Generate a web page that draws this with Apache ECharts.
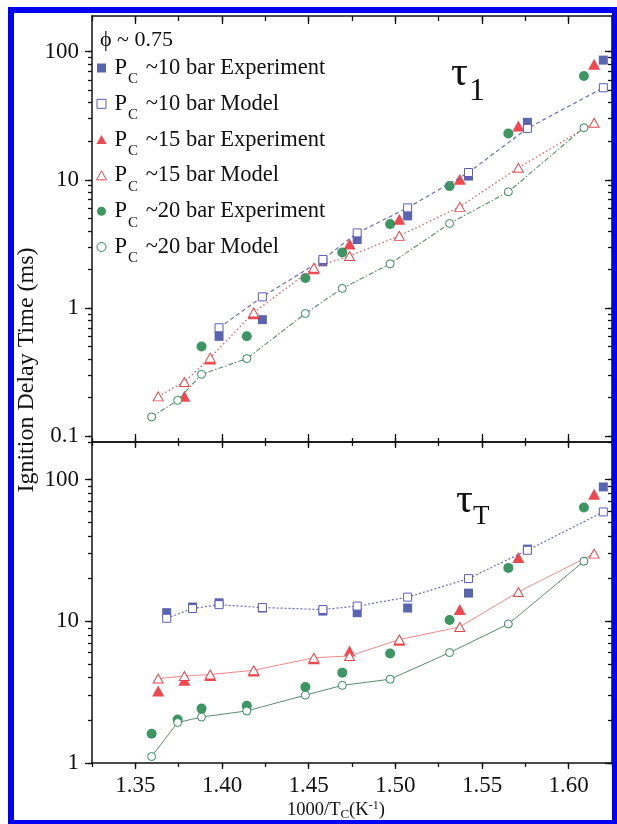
<!DOCTYPE html>
<html>
<head>
<meta charset="utf-8">
<script src="https://cdn.jsdelivr.net/npm/echarts@6/dist/echarts.min.js"></script>
<style>
html, body { margin: 0; padding: 0; background: #fff; }
#chart { width: 617px; height: 824px; }
</style>
</head>
<body>
<div id="chart"></div>
<script>
// ---- x axis: 1000/Tc (K^-1) ----
const xMajorTicks = [1.35, 1.40, 1.45, 1.50, 1.55, 1.60];

// ---- first-stage ignition delay, tau_1 (ms) ----
const tau1_P10_x     = [1.3983, 1.4233, 1.4582, 1.4780, 1.5071, 1.5422, 1.5762, 1.6200];
const tau1_P10_exp   = [0.60, 0.81, 2.29, 3.42, 5.23, 10.7, 28.1, 86];
const tau1_P10_model = [0.70, 1.22, 2.39, 3.85, 6.04, 11.4, 25.2, 52.3];

const tau1_P15_model_x = [1.3632, 1.3783, 1.3932, 1.4183, 1.4530, 1.4736, 1.5023, 1.5372, 1.5710, 1.6147];
const tau1_P15_model   = [0.204, 0.264, 0.409, 0.92, 2.06, 2.54, 3.65, 6.15, 12.4, 27.9];
const tau1_P15_exp_x   = [1.3783, 1.3932, 1.4183, 1.4530, 1.4736, 1.5023, 1.5372, 1.5710, 1.6147];
const tau1_P15_exp     = [0.204, 0.40, 0.90, 2.02, 3.15, 4.93, 10.1, 26.3, 79.7];

const tau1_P20_model_x = [1.3594, 1.3744, 1.3882, 1.4143, 1.4481, 1.4694, 1.4970, 1.5313, 1.5652, 1.6088];
const tau1_P20_model   = [0.141, 0.190, 0.303, 0.402, 0.904, 1.42, 2.21, 4.56, 8.06, 25.5];
const tau1_P20_exp_x   = [1.3882, 1.4143, 1.4481, 1.4694, 1.4970, 1.5313, 1.5652, 1.6088];
const tau1_P20_exp     = [0.50, 0.60, 1.71, 2.71, 4.51, 8.93, 23.0, 64.6];

// ---- total ignition delay, tau_T (ms) ----
const tauT_P10_x     = [1.3681, 1.3830, 1.3983, 1.4233, 1.4582, 1.4780, 1.5071, 1.5422, 1.5762, 1.6200];
const tauT_P10_exp   = [11.5, 12.6, 13.5, 12.4, 11.8, 11.5, 12.4, 15.8, 32.3, 88.7];
const tauT_P10_model = [10.5, 12.3, 13.1, 12.5, 12.1, 12.8, 14.8, 20.0, 31.7, 59.1];

const tauT_P15_x     = [1.3632, 1.3783, 1.3932, 1.4183, 1.4530, 1.4736, 1.5023, 1.5372, 1.5710, 1.6147];
const tauT_P15_exp   = [3.22, 3.83, 4.15, 4.45, 5.45, 6.17, 7.35, 12.1, 28.2, 78.8];
const tauT_P15_model = [3.94, 4.11, 4.21, 4.51, 5.53, 5.69, 7.43, 9.12, 16.1, 30.0];

const tauT_P20_x     = [1.3594, 1.3744, 1.3882, 1.4143, 1.4481, 1.4694, 1.4970, 1.5313, 1.5652, 1.6088];
const tauT_P20_exp   = [1.61, 2.03, 2.42, 2.53, 3.44, 4.34, 5.92, 10.2, 23.8, 63.4];
const tauT_P20_model = [1.11, 1.93, 2.11, 2.33, 3.01, 3.53, 3.90, 6.01, 9.57, 26.5];

// series names (legend)
const NAME_10E = 'P_C ~10 bar Experiment';
const NAME_10M = 'P_C ~10 bar Model';
const NAME_15E = 'P_C ~15 bar Experiment';
const NAME_15M = 'P_C ~15 bar Model';
const NAME_20E = 'P_C ~20 bar Experiment';
const NAME_20M = 'P_C ~20 bar Model';

// ---- styling ----
const FONT = '"Liberation Serif", "Times New Roman", Times, serif';
const INK = '#111';
const C = {
  blueE: '#2f3e9a', blueM: '#5c5cb8', blueL: '#6b6bbd',
  redE: '#ea1c24', redM: '#e8454a', redL: '#e85a5a', redL2: '#f08a8a',
  greenE: '#0d7a3c', greenM: '#2e8b57', greenL: '#5a8f6e'
};
const X_MIN = 1.325, X_MAX = 1.625, X_MINOR = 0.025;
const TAU1_RANGE = [0.0898, 190];
const TAUT_RANGE = [1, 184];

function pairs(xs, ys) { return xs.map((x, i) => [x, ys[i]]); }

// all k*10^e values inside a range (k = 1..9), or only the powers of ten
function logTickValues(range, majorsOnly) {
  const out = [];
  const e0 = Math.floor(Math.log10(range[0])), e1 = Math.ceil(Math.log10(range[1]));
  for (let e = e0; e <= e1; e++) {
    for (let k = 1; k <= (majorsOnly ? 1 : 9); k++) {
      const v = +(k * Math.pow(10, e)).toPrecision(6);
      if (v >= range[0] && v <= range[1]) out.push(v);
    }
  }
  return out;
}

function powLabel(v) {
  const e = Math.log10(v);
  if (Math.abs(e - Math.round(e)) > 1e-6) return '';
  return String(+Math.pow(10, Math.round(e)).toPrecision(3));
}

const AXIS_LINE = { show: true, onZero: false, lineStyle: { color: INK, width: 1.5 } };
const TICK_STYLE = { color: INK, width: 1.3 };

function xAxisDef(grid, pos, major, inside, len, withLabels) {
  const a = {
    type: 'value', gridIndex: grid, position: pos, min: X_MIN, max: X_MAX,
    splitLine: { show: false },
    axisLine: major ? { show: false, onZero: false } : AXIS_LINE,
    axisTick: { show: true, inside: inside, length: len, lineStyle: TICK_STYLE },
    axisLabel: { show: false }
  };
  if (major) a.axisTick.customValues = xMajorTicks;
  else a.interval = X_MINOR;
  if (withLabels) {
    a.axisLabel = {
      show: true, customValues: xMajorTicks, formatter: v => v.toFixed(2),
      margin: 11, fontFamily: FONT, fontSize: 23, color: INK
    };
  }
  return a;
}

function yAxisDef(grid, pos, range, major, inside, len, withLabels) {
  const a = {
    type: 'log', logBase: 10, gridIndex: grid, position: pos, min: range[0], max: range[1],
    splitLine: { show: false },
    axisLine: major ? { show: false, onZero: false } : AXIS_LINE,
    axisTick: { show: true, inside: inside, length: len, lineStyle: TICK_STYLE,
                customValues: logTickValues(range, major) },
    axisLabel: { show: false }
  };
  if (withLabels) {
    a.axisLabel = {
      show: true, formatter: powLabel, margin: 13,
      fontFamily: FONT, fontSize: 23, color: INK
    };
  }
  return a;
}

function expSeries(name, xi, yi, data, symbol, size, color) {
  return {
    name, type: 'scatter', xAxisIndex: xi, yAxisIndex: yi, data,
    symbol, symbolSize: size, itemStyle: { color: color }, z: 3
  };
}

function modelSeries(name, xi, yi, data, symbol, size, border, line, lineType, lineWidth) {
  return {
    name, type: 'line', xAxisIndex: xi, yAxisIndex: yi, data,
    symbol, symbolSize: size, showSymbol: true,
    itemStyle: { color: '#fff', borderColor: border, borderWidth: 1 },
    lineStyle: { color: line, width: lineWidth, type: lineType },
    z: 4
  };
}

const chart = echarts.init(document.getElementById('chart'), null, { renderer: 'canvas' });

chart.setOption({
  animation: false,
  backgroundColor: '#fff',
  grid: [
    { left: 92, top: 16, width: 520, height: 426 },
    { left: 92, top: 442, width: 520, height: 321 }
  ],
  xAxis: [
    xAxisDef(0, 'bottom', false, true, 4),
    xAxisDef(0, 'bottom', true, true, 8),
    xAxisDef(0, 'top', false, true, 5),
    xAxisDef(0, 'top', true, true, 8),
    xAxisDef(1, 'bottom', false, false, 4),
    xAxisDef(1, 'bottom', true, false, 6, true),
    xAxisDef(1, 'top', false, true, 4),
    xAxisDef(1, 'top', true, true, 6)
  ],
  yAxis: [
    yAxisDef(0, 'left', TAU1_RANGE, false, false, 4, true),
    yAxisDef(0, 'left', TAU1_RANGE, true, false, 7),
    yAxisDef(0, 'right', TAU1_RANGE, false, true, 4),
    yAxisDef(0, 'right', TAU1_RANGE, true, true, 7),
    yAxisDef(1, 'left', TAUT_RANGE, false, false, 4, true),
    yAxisDef(1, 'left', TAUT_RANGE, true, false, 7),
    yAxisDef(1, 'right', TAUT_RANGE, false, true, 4),
    yAxisDef(1, 'right', TAUT_RANGE, true, true, 7)
  ],
  legend: {
    orient: 'vertical', left: 96, top: 49, padding: 0, itemGap: -2.2,
    itemWidth: 16, itemHeight: 9, selectedMode: false,
    textStyle: {
      fontFamily: FONT, fontSize: 22.5, color: INK, lineHeight: 24,
      rich: { sub: { fontFamily: FONT, fontSize: 15, color: INK, lineHeight: 16, padding: [23, 2, 0, 1] } }
    },
    formatter: n => n.replace('P_C', 'P{sub|C}'),
    data: [
      { name: NAME_10E, icon: 'path://M0,0L10,0L10,10L0,10Z', itemStyle: { color: C.blueE, borderWidth: 0 } },
      { name: NAME_10M, icon: 'path://M0,0L10,0L10,10L0,10Z', itemStyle: { color: '#fff', borderColor: C.blueM, borderWidth: 1 } },
      { name: NAME_15E, icon: 'path://M5,0L10,9L0,9Z', itemStyle: { color: C.redE, borderWidth: 0 } },
      { name: NAME_15M, icon: 'path://M5,0L10,9L0,9Z', itemStyle: { color: '#fff', borderColor: C.redM, borderWidth: 1 } },
      { name: NAME_20E, icon: 'circle', itemStyle: { color: C.greenE, borderWidth: 0 } },
      { name: NAME_20M, icon: 'circle', itemStyle: { color: '#fff', borderColor: C.greenM, borderWidth: 1 } }
    ]
  },
  series: [
    // tau_1 panel
    expSeries(NAME_10E, 0, 0, pairs(tau1_P10_x, tau1_P10_exp), 'rect', 9, C.blueE),
    expSeries(NAME_15E, 0, 0, pairs(tau1_P15_exp_x, tau1_P15_exp), 'triangle', [12, 11], C.redE),
    expSeries(NAME_20E, 0, 0, pairs(tau1_P20_exp_x, tau1_P20_exp), 'circle', 10, C.greenE),
    modelSeries(NAME_10M, 0, 0, pairs(tau1_P10_x, tau1_P10_model), 'rect', 8, C.blueM, C.blueL, [4, 3], 1.2),
    modelSeries(NAME_15M, 0, 0, pairs(tau1_P15_model_x, tau1_P15_model), 'triangle', [10, 9], C.redM, C.redL, [1.5, 2.5], 1.3),
    modelSeries(NAME_20M, 0, 0, pairs(tau1_P20_model_x, tau1_P20_model), 'circle', 8, C.greenM, C.greenL, [5, 2, 1.5, 2], 1.1),
    // tau_T panel
    expSeries(NAME_10E, 4, 4, pairs(tauT_P10_x, tauT_P10_exp), 'rect', 9, C.blueE),
    expSeries(NAME_15E, 4, 4, pairs(tauT_P15_x, tauT_P15_exp), 'triangle', [12, 11], C.redE),
    expSeries(NAME_20E, 4, 4, pairs(tauT_P20_x, tauT_P20_exp), 'circle', 10, C.greenE),
    modelSeries(NAME_10M, 4, 4, pairs(tauT_P10_x, tauT_P10_model), 'rect', 8, C.blueM, C.blueL, [2, 2], 1.2),
    modelSeries(NAME_15M, 4, 4, pairs(tauT_P15_x, tauT_P15_model), 'triangle', [10, 9], C.redM, C.redL2, 'solid', 1),
    modelSeries(NAME_20M, 4, 4, pairs(tauT_P20_x, tauT_P20_model), 'circle', 8, C.greenM, C.greenL, 'solid', 1)
  ],
  graphic: [
    { type: 'text', x: 100, y: 40, silent: true,
      style: { text: 'ϕ ~ 0.75', font: '22px ' + FONT, fill: INK, align: 'left', verticalAlign: 'middle' } },
    { type: 'text', x: 451, y: 74, silent: true,
      style: { text: 'τ', font: '42px ' + FONT, fill: INK, align: 'left', verticalAlign: 'middle' } },
    { type: 'text', x: 469, y: 92, silent: true,
      style: { text: '1', font: '32px ' + FONT, fill: INK, align: 'left', verticalAlign: 'middle' } },
    { type: 'text', x: 456, y: 501, silent: true,
      style: { text: 'τ', font: '42px ' + FONT, fill: INK, align: 'left', verticalAlign: 'middle' } },
    { type: 'text', x: 473, y: 517, silent: true,
      style: { text: 'T', font: '27px ' + FONT, fill: INK, align: 'left', verticalAlign: 'middle' } },
    { type: 'text', x: 27, y: 370, rotation: Math.PI / 2, silent: true,
      style: { text: 'Ignition Delay Time (ms)', font: '24px ' + FONT, fill: INK, align: 'center', verticalAlign: 'middle' } },
    { type: 'text', x: 287, y: 810, silent: true,
      style: {
        text: '1000/T{s|C}(K{p|-1})', font: '18.5px ' + FONT, fill: INK, align: 'left', verticalAlign: 'middle',
        rich: {
          s: { font: '13px ' + FONT, fill: INK, padding: [9, 0, 0, 0] },
          p: { font: '12px ' + FONT, fill: INK, padding: [0, 0, 8, 0] }
        }
      } },
    { type: 'rect', z: 100, silent: true,
      shape: { x: 11, y: 10, width: 604, height: 813 },
      style: { fill: 'none', stroke: '#0000f2', lineWidth: 6 } }
  ]
});
</script>
</body>
</html>
